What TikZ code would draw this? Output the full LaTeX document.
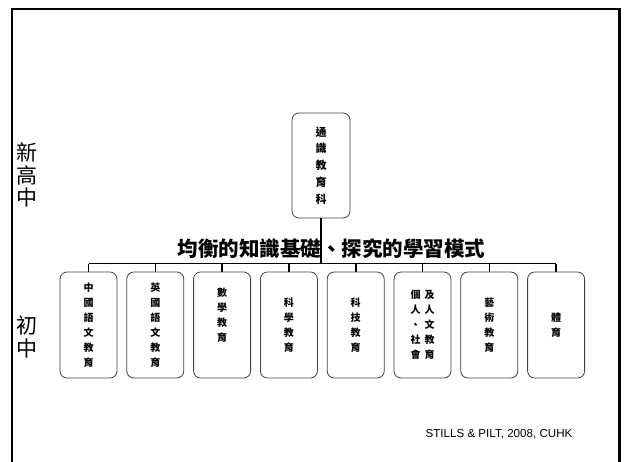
\documentclass[tikz,border=0pt]{standalone}
\usepackage{fontspec}
\setmainfont{Liberation Sans}
\newfontfamily\cjk{Noto Sans CJK TC}
\tikzset{
  x=1pt,y=1pt,
  subjbox/.style={draw=black!75,line width=0.8pt,rounded corners=7pt,minimum width=57pt,minimum height=106pt,inner sep=0pt,align=center,font=\cjk\bfseries\fontsize{10}{15}\selectfont},
  topbox/.style={subjbox,minimum width=58pt,minimum height=105pt,font=\cjk\bfseries\fontsize{11}{16.7}\selectfont},
  conn/.style={line width=1.6pt,black},
  sidelabel/.style={align=center,inner sep=0pt,font=\cjk\fontsize{21}{22.5}\selectfont}
}
\begin{document}
\begin{tikzpicture}
\useasboundingbox (0,0) rectangle (624,-461);
\draw[line width=2.2pt] (12,-470) -- (12,-9) -- (619.5,-9) -- (619.5,-470);

\node[topbox] (top) at (321,-165.5) {通\\識\\教\\育\\科};

\node[subjbox] (b1) at (88.5,-325) {中\\國\\語\\文\\教\\育};
\node[subjbox] (b2) at (155.3,-325) {英\\國\\語\\文\\教\\育};
\node[subjbox] (b3) at (222.1,-325) {數\\學\\教\\育\\[6pt]};
\node[subjbox] (b4) at (288.9,-325) {科\\學\\教\\育};
\node[subjbox] (b5) at (355.7,-325) {科\\技\\教\\育};
\node[subjbox] (b6) at (422.5,-325) {\begin{tabular}{@{}c@{\hspace{4pt}}c@{}}個&及\\人&人\\、&文\\社&教\\會&育\end{tabular}};
\node[subjbox] (b7) at (489.3,-325) {藝\\術\\教\\育};
\node[subjbox] (b8) at (556.1,-325) {體\\育};

\coordinate (bar) at (321,-263.5);
\coordinate (barL) at (88.5,-263.5);
\coordinate (barR) at (556.1,-263.5);
\draw[conn,line width=2.4pt] (top.south) -- (bar);
\draw[conn] (barL) -- (barR);
\foreach \i in {1,...,8}{
  \draw[conn] (b\i.north |- bar) -- (b\i.north);
}

\node[font=\cjk\bfseries\fontsize{20.5}{22}\selectfont,inner sep=0pt] (title) at (331.5,-249) {均衡的知識基礎、探究的學習模式};

\node[sidelabel] (xgz) at (27,-175) {新\\高\\中};
\node[sidelabel] (cz) at (27,-337) {初\\中};

\node[font=\fontsize{11.6}{13}\selectfont,inner sep=0pt] (credit) at (499,-434) {STILLS \& PILT, 2008, CUHK};
\end{tikzpicture}
\end{document}
